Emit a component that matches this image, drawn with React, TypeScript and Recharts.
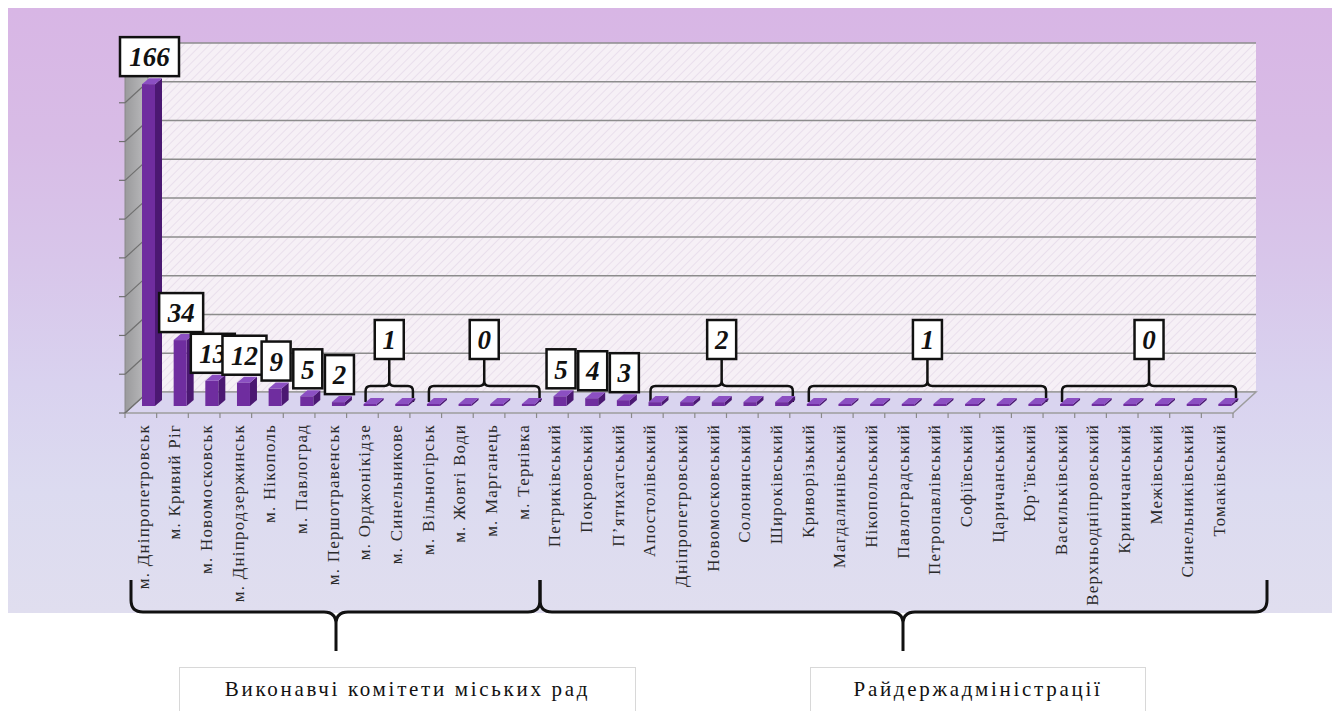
import { Bar, BarChart, CartesianGrid, LabelList, ReferenceArea, XAxis, YAxis } from "recharts";

const categories = [
  "м. Дніпропетровськ",
  "м. Кривий Ріг",
  "м. Новомосковськ",
  "м. Дніпродзержинськ",
  "м. Нікополь",
  "м. Павлоград",
  "м. Першотравенськ",
  "м. Орджонікідзе",
  "м. Синельникове",
  "м. Вільногірськ",
  "м. Жовті Води",
  "м. Марганець",
  "м. Тернівка",
  "Петриківський",
  "Покровський",
  "П’ятихатський",
  "Апостолівський",
  "Дніпропетровський",
  "Новомосковський",
  "Солонянський",
  "Широківський",
  "Криворізький",
  "Магдалинівський",
  "Нікопольський",
  "Павлоградський",
  "Петропавлівський",
  "Софіївський",
  "Царичанський",
  "Юр’ївський",
  "Васильківський",
  "Верхньодніпровський",
  "Криничанський",
  "Межівський",
  "Синельниківський",
  "Томаківський",
];

const values = [
  166, 34, 13, 12, 9, 5, 2, 1, 1, 0, 0, 0, 0,
  5, 4, 3, 2, 2, 2, 2, 2, 1, 1, 1, 1, 1, 1, 1, 1, 0, 0, 0, 0, 0, 0,
];

// bars that share one label with a bracket
const groupStart = ["м. Орджонікідзе", "м. Вільногірськ", "Апостолівський", "Криворізький", "Васильківський"];
const groupEnd = ["м. Синельникове", "м. Тернівка", "Широківський", "Юр’ївський", "Томаківський"];
const groupValue = [1, 0, 2, 1, 0];

const yTicks = [0, 20, 40, 60, 80, 100, 120, 140, 160, 180];

const sections = ["Виконавчі комітети міських рад", "Райдержадміністрації"];

const data = categories.map((name, i) => ({ name, value: values[i] }));

const grouped = new Set<number>();
groupStart.forEach((s, g) => {
  const a = categories.indexOf(s);
  const b = categories.indexOf(groupEnd[g]);
  for (let i = a; i <= b; i++) grouped.add(i);
});

const CHART_W = 1332;
const CHART_H = 605;
const AXIS_H = 221;
const PLOT_BOTTOM = CHART_H - AXIS_H;
const FLOOR_DX = 23;
const FLOOR_DY = 21;
const BAR_SHIFT_X = -15;
const BAR_SHIFT_Y = 14;
const BAR_DX = 7;
const BAR_DY = -6;
const SERIF = "'Liberation Serif', 'Times New Roman', serif";

function Bar3D(props: any) {
  const { x, y, width, height } = props;
  const h = Math.max(height || 0, 2);
  const fx = x + BAR_SHIFT_X;
  const fy = y + (height || 0) - h + BAR_SHIFT_Y;
  const w = width;
  return (
    <g>
      <polygon
        points={`${fx + w},${fy} ${fx + w + BAR_DX},${fy + BAR_DY} ${fx + w + BAR_DX},${fy + h + BAR_DY} ${fx + w},${fy + h}`}
        fill="#4b1872"
      />
      <polygon
        points={`${fx},${fy} ${fx + BAR_DX},${fy + BAR_DY} ${fx + w + BAR_DX},${fy + BAR_DY} ${fx + w},${fy}`}
        fill="#8b4fc2"
      />
      <rect x={fx} y={fy} width={w} height={h} fill="#6f2d9f" />
    </g>
  );
}

function ValueBox({ cx, bottom, text }: { cx: number; bottom: number; text: string }) {
  const w = text.length * 15 + 14;
  const h = 39;
  return (
    <g>
      <rect x={cx - w / 2} y={bottom - h} width={w} height={h} fill="#fff" stroke="#111" strokeWidth={2.5} />
      <text
        x={cx}
        y={bottom - h / 2}
        dy="0.36em"
        textAnchor="middle"
        fontFamily={SERIF}
        fontStyle="italic"
        fontWeight="bold"
        fontSize={27}
        fill="#111"
      >
        {text}
      </text>
    </g>
  );
}

function SingleLabel(props: any) {
  const vb = props.viewBox || props;
  const index = props.index;
  if (index == null || grouped.has(index)) return null;
  const h = Math.max(vb.height || 0, 2);
  const fx = vb.x + BAR_SHIFT_X;
  const fy = vb.y + (vb.height || 0) - h + BAR_SHIFT_Y;
  return <ValueBox cx={fx + vb.width / 2 + 1} bottom={fy - 8} text={String(props.value)} />;
}

function groupShape(text: string) {
  return (p: any) => {
    const left = p.x - 4;
    const right = p.x + p.width - 20;
    const cx = (left + right) / 2;
    const base = p.y + p.height + BAR_SHIFT_Y;
    const hy = base - 20;
    const end = base - 4;
    const r = 5;
    const d = [
      `M${left},${end} L${left},${hy + r} Q${left},${hy} ${left + r},${hy} L${cx - r},${hy} Q${cx},${hy} ${cx},${hy - r}`,
      `L${cx},${base - 47}`,
      `M${cx},${hy - r} Q${cx},${hy} ${cx + r},${hy} L${right - r},${hy} Q${right},${hy} ${right},${hy + r} L${right},${end}`,
    ].join(" ");
    return (
      <g>
        <path d={d} fill="none" stroke="#111" strokeWidth={2.5} />
        <ValueBox cx={cx} bottom={base - 47} text={text} />
      </g>
    );
  };
}

function Frame(p: any) {
  const { x, y, width: w, height: h } = p;
  const by = y + h;
  const n = categories.length;
  return (
    <g>
      <polygon
        points={`${x},${by} ${x + w},${by} ${x + w - FLOOR_DX},${by + FLOOR_DY} ${x - FLOOR_DX},${by + FLOOR_DY}`}
        fill="#d9d4ef"
        stroke="#9d9d9d"
        strokeWidth={1.5}
      />
      <polygon
        points={`${x},${y} ${x},${by} ${x - FLOOR_DX},${by + FLOOR_DY} ${x - FLOOR_DX},${y + FLOOR_DY}`}
        fill="url(#wallGrey)"
        stroke="#8a8a8a"
        strokeWidth={1}
      />
      {yTicks.map((t) => {
        const yy = by - (t / 180) * h;
        return (
          <g key={t}>
            <line x1={x - FLOOR_DX} y1={yy + FLOOR_DY} x2={x} y2={yy} stroke="#6f6f6f" strokeWidth={1.2} />
            <line x1={x - FLOOR_DX - 6} y1={yy + FLOOR_DY} x2={x - FLOOR_DX} y2={yy + FLOOR_DY} stroke="#6f6f6f" strokeWidth={1.2} />
          </g>
        );
      })}
      {Array.from({ length: n + 1 }, (_, i) => {
        const tx = x - FLOOR_DX + (i * w) / n;
        return <line key={i} x1={tx} y1={by + FLOOR_DY} x2={tx} y2={by + FLOOR_DY + 5} stroke="#8a8a8a" strokeWidth={1.2} />;
      })}
    </g>
  );
}

function CategoryTick(props: any) {
  const { x, payload } = props;
  const tx = x - FLOOR_DX + 2;
  const ty = PLOT_BOTTOM + FLOOR_DY + 11;
  return (
    <text
      x={tx}
      y={ty}
      dy="0.35em"
      transform={`rotate(-90 ${tx} ${ty})`}
      textAnchor="end"
      fontFamily={SERIF}
      fontSize={17}
      letterSpacing={1.2}
      fill="#2a2a2a"
    >
      {payload.value}
    </text>
  );
}

function Braces() {
  // page coordinates minus the 8px body margin
  const o = 8;
  const brace = (l: number, c: number, r: number) => {
    const top = 580 - o;
    const hy = 612 - o;
    const tip = 651 - o;
    const k = 12;
    return `M${l},${top} L${l},${hy - k} Q${l},${hy} ${l + k},${hy} L${c - k},${hy} Q${c},${hy} ${c},${hy + k} L${c},${tip} M${c},${hy + k} Q${c},${hy} ${c + k},${hy} L${r - k},${hy} Q${r},${hy} ${r},${hy - k} L${r},${top}`;
  };
  return (
    <svg width={CHART_W} height={703} style={{ position: "absolute", left: 0, top: 0, pointerEvents: "none" }}>
      <path d={brace(131 - o, 336 - o, 540 - o)} fill="none" stroke="#111" strokeWidth={3} />
      <path d={brace(540 - o, 903 - o, 1267 - o)} fill="none" stroke="#111" strokeWidth={3} />
    </svg>
  );
}

export default function App() {
  return (
    <div style={{ position: "relative", width: CHART_W, height: 703, fontFamily: SERIF }}>
      <svg width={0} height={0} style={{ position: "absolute" }}>
        <defs>
          <pattern id="wallHatch" width={6} height={6} patternUnits="userSpaceOnUse" patternTransform="rotate(45)">
            <rect width={6} height={6} fill="#f6f0f6" />
            <line x1={0} y1={0} x2={0} y2={6} stroke="#e9dfec" strokeWidth={2} />
          </pattern>
          <linearGradient id="wallGrey" x1="0" y1="0" x2="1" y2="0">
            <stop offset="0%" stopColor="#9a9a9c" />
            <stop offset="100%" stopColor="#bdbdbf" />
          </linearGradient>
        </defs>
      </svg>
      <div
        style={{
          position: "absolute",
          left: 0,
          top: 0,
          width: CHART_W,
          height: CHART_H,
          background:
            "linear-gradient(180deg, #d8b6e5 0%, #d8bce6 22%, #d8c6ea 42%, #d9d2ef 62%, #dcdbf0 80%, #e0deef 100%)",
        }}
      />
      <div style={{ position: "absolute", left: 0, top: 0 }}>
        <BarChart
          width={CHART_W}
          height={CHART_H}
          data={data}
          margin={{ top: 35, right: 84, left: 140, bottom: 0 }}
        >
          <CartesianGrid vertical={false} stroke="#8c8c8c" strokeWidth={1.5} fill="url(#wallHatch)" fillOpacity={1} />
          <XAxis
            dataKey="name"
            interval={0}
            height={AXIS_H}
            axisLine={false}
            tickLine={false}
            tick={<CategoryTick />}
          />
          <YAxis hide domain={[0, 180]} ticks={yTicks} />
          <ReferenceArea y1={0} y2={180} ifOverflow="visible" shape={(p: any) => <Frame {...p} />} />
          <Bar dataKey="value" barSize={13} isAnimationActive={false} shape={(p: any) => <Bar3D {...p} />}>
            <LabelList dataKey="value" content={(p: any) => <SingleLabel {...p} />} />
          </Bar>
          {groupStart.map((s, g) => (
            <ReferenceArea
              key={s}
              x1={s}
              x2={groupEnd[g]}
              y1={0}
              y2={10}
              ifOverflow="visible"
              shape={groupShape(String(groupValue[g]))}
            />
          ))}
        </BarChart>
      </div>
      <Braces />
      {sections.map((t, i) => (
        <div
          key={t}
          style={{
            position: "absolute",
            left: i === 0 ? 171 : 802,
            top: 659,
            width: i === 0 ? 457 : 336,
            height: 44,
            boxSizing: "border-box",
            borderTop: "1px solid #d8d8d8",
            borderLeft: "1px solid #d8d8d8",
            borderRight: "1px solid #d8d8d8",
            display: "flex",
            justifyContent: "center",
            alignItems: "center",
            fontSize: 21,
            letterSpacing: 2.7,
            color: "#111",
          }}
        >
          {t}
        </div>
      ))}
    </div>
  );
}
